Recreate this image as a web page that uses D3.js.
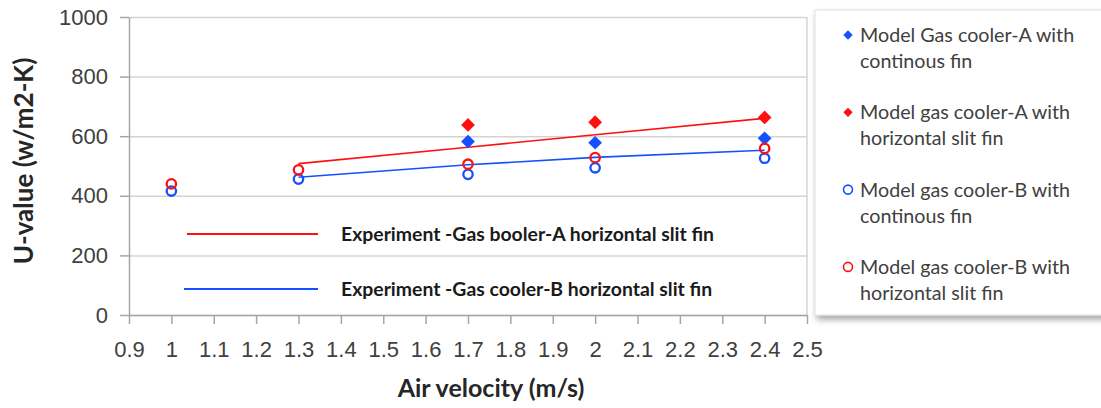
<!DOCTYPE html>
<html>
<head>
<meta charset="utf-8">
<script src="https://cdn.jsdelivr.net/npm/d3@7"></script>
<style>
  body { margin: 0; background: #fff; }
  svg { display: block; font-family: Lato, "Open Sans", sans-serif; }
  .grid line { stroke: #d4d4d4; stroke-width: 1.5; }
  .grid path { display: none; }
  .axis path, .axis line { stroke: #a6a6a6; stroke-width: 1.5; }
  .axis text { fill: #404040; font-size: 22px; }
</style>
</head>
<body>
<svg id="chart" width="1101" height="408"></svg>
<script>
// values
var xTicks = [0.9, 1, 1.1, 1.2, 1.3, 1.4, 1.5, 1.6, 1.7, 1.8, 1.9, 2, 2.1, 2.2, 2.3, 2.4, 2.5];
var yTicks = [0, 200, 400, 600, 800, 1000];

var velocity = [1.0, 1.3, 1.7, 2.0, 2.4];
var modelA_cont = [null, null, 582, 578, 593];   // blue diamonds
var modelA_slit = [null, null, 638, 647, 663];   // red diamonds
var modelB_cont = [416, 456, 472, 494, 526];     // blue circles
var modelB_slit = [440, 487, 506, 528, 559];     // red circles
var expA_slit = [null, 508, 563, 605, 660];      // red line
var expB_slit = [null, 462, 504, 529, 553];      // blue line

var RED = "#ff1010", BLUE = "#1450ff";

var svg = d3.select("#chart");
var pLeft = 129, pRight = 807, pTop = 17, pBottom = 315;

var x = d3.scaleLinear().domain([0.9, 2.5]).range([pLeft, pRight]);
var y = d3.scaleLinear().domain([0, 1000]).range([pBottom, pTop]);

function pts(vals) {
    return velocity.map(function (v, i) { return { x: v, y: vals[i] }; })
        .filter(function (d) { return d.y != null; });
}

// gridlines
svg.append("g").attr("class", "grid")
    .attr("transform", "translate(" + pLeft + ",0)")
    .call(d3.axisLeft(y).tickValues(yTicks).tickSize(-(pRight - pLeft)).tickFormat(""));
svg.append("line")
    .attr("x1", pRight).attr("x2", pRight).attr("y1", pTop).attr("y2", pBottom)
    .attr("stroke", "#d4d4d4").attr("stroke-width", 1.5);

// axes
svg.append("g").attr("class", "axis")
    .attr("transform", "translate(" + pLeft + ",0)")
    .call(d3.axisLeft(y).tickValues(yTicks).tickSizeInner(9).tickSizeOuter(0).tickPadding(12)
        .tickFormat(function (d) { return String(d); }));
svg.append("g").attr("class", "axis")
    .attr("transform", "translate(0," + pBottom + ")")
    .call(d3.axisBottom(x).tickValues(xTicks).tickSizeInner(9).tickSizeOuter(0).tickPadding(17)
        .tickFormat(function (d) { return String(d); }));

// axis titles
svg.append("text")
    .attr("transform", "translate(33,161) rotate(-90)")
    .attr("text-anchor", "middle")
    .style("font-size", "26px").style("font-weight", "bold").style("fill", "#262626")
    .text("U-value (w/m2-K)");
svg.append("text")
    .attr("x", 491).attr("y", 397)
    .attr("text-anchor", "middle")
    .style("font-size", "25px").style("font-weight", "bold").style("fill", "#262626")
    .text("Air velocity (m/s)");

// experiment lines
var line = d3.line().x(function (d) { return x(d.x); }).y(function (d) { return y(d.y); });
svg.append("path").datum(pts(expA_slit))
    .attr("d", line).attr("fill", "none").attr("stroke", RED).attr("stroke-width", 1.6);
svg.append("path").datum(pts(expB_slit))
    .attr("d", line).attr("fill", "none").attr("stroke", BLUE).attr("stroke-width", 1.6);

// markers
var diamond = d3.symbol().type(d3.symbolDiamond2).size(120);
function drawDiamonds(vals, col) {
    svg.append("g").selectAll("path").data(pts(vals)).join("path")
        .attr("d", diamond)
        .attr("transform", function (d) { return "translate(" + x(d.x) + "," + y(d.y) + ")"; })
        .attr("fill", col);
}
function drawCircles(vals, col) {
    svg.append("g").selectAll("circle").data(pts(vals)).join("circle")
        .attr("cx", function (d) { return x(d.x); })
        .attr("cy", function (d) { return y(d.y); })
        .attr("r", 4.7)
        .attr("fill", "none").attr("stroke", col).attr("stroke-width", 2.3);
}
drawDiamonds(modelA_cont, BLUE);
drawDiamonds(modelA_slit, RED);
drawCircles(modelB_cont, BLUE);
drawCircles(modelB_slit, RED);

// legend inside plot for the experiment lines
var lineLegend = [
    { label: "Experiment -Gas booler-A horizontal slit fin", col: RED, x1: 187, y: 234 },
    { label: "Experiment -Gas cooler-B horizontal slit fin", col: BLUE, x1: 184, y: 289 }
];
lineLegend.forEach(function (d) {
    svg.append("line").attr("x1", d.x1).attr("x2", 318).attr("y1", d.y).attr("y2", d.y)
        .attr("stroke", d.col).attr("stroke-width", 2.2);
    svg.append("text").attr("x", 341).attr("y", d.y + 7)
        .style("font-size", "19.4px").style("font-weight", "bold").style("fill", "#1a1a1a")
        .text(d.label);
});

// side legend box
var defs = svg.append("defs");
var f = defs.append("filter").attr("id", "shadow").attr("x", "-10%").attr("y", "-10%")
    .attr("width", "130%").attr("height", "130%");
f.append("feDropShadow").attr("dx", 2).attr("dy", 4).attr("stdDeviation", 3)
    .attr("flood-color", "#000").attr("flood-opacity", 0.35);
svg.append("rect").attr("x", 815).attr("y", 10).attr("width", 300).attr("height", 305)
    .attr("fill", "#fff").attr("stroke", "#e0e0e0").attr("filter", "url(#shadow)");

var sideLegend = [
    { lines: ["Model Gas cooler-A with", "continous fin"], col: BLUE, shape: "diamond" },
    { lines: ["Model gas cooler-A with", "horizontal slit fin"], col: RED, shape: "diamond" },
    { lines: ["Model gas cooler-B with", "continous fin"], col: BLUE, shape: "circle" },
    { lines: ["Model gas cooler-B with", "horizontal slit fin"], col: RED, shape: "circle" }
];
var lg = svg.append("g").selectAll("g").data(sideLegend).join("g")
    .attr("transform", function (d, i) { return "translate(848," + (35 + i * 77.3) + ")"; });
lg.filter(function (d) { return d.shape === "diamond"; }).append("path")
    .attr("d", d3.symbol().type(d3.symbolDiamond2).size(55))
    .attr("fill", function (d) { return d.col; });
lg.filter(function (d) { return d.shape === "circle"; }).append("circle")
    .attr("r", 4.5).attr("fill", "none").attr("stroke-width", 1.6)
    .attr("stroke", function (d) { return d.col; });
lg.append("text")
    .style("font-size", "19.7px").style("fill", "#404040")
    .selectAll("tspan").data(function (d) { return d.lines; }).join("tspan")
    .attr("x", 12).attr("y", function (d, i) { return 7 + i * 26; })
    .text(function (d) { return d; });
</script>
</body>
</html>
